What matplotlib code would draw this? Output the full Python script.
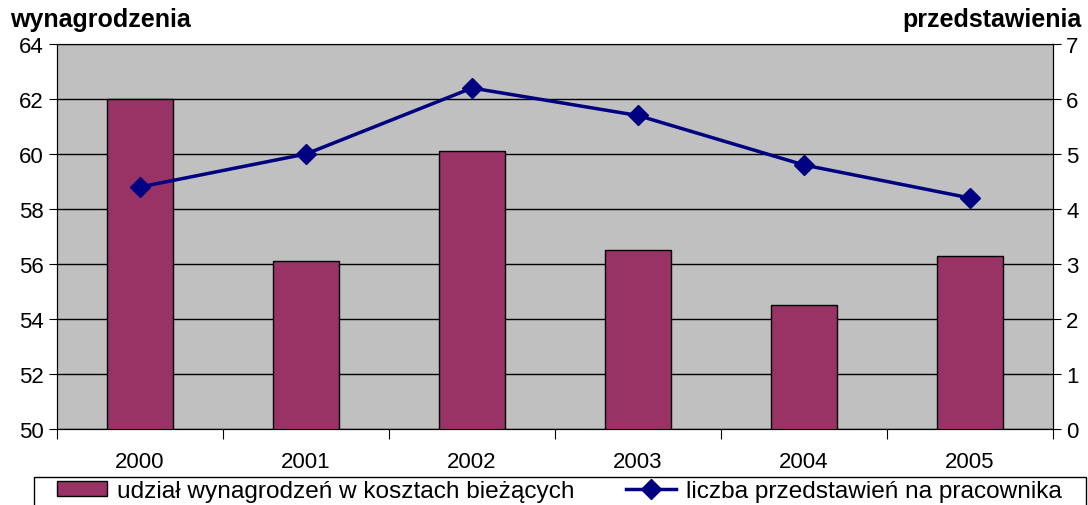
import numpy as np
import matplotlib.pyplot as plt
from matplotlib.patches import Rectangle

plt.rcParams['font.family'] = ['Liberation Sans', 'DejaVu Sans']

# dane
lata = ['2000', '2001', '2002', '2003', '2004', '2005']
udzial = [62.0, 56.1, 60.1, 56.5, 54.5, 56.3]
przedstawienia = [4.4, 5.0, 6.2, 5.7, 4.8, 4.2]

fig = plt.figure(figsize=(10.88, 5.06), dpi=100)
ax = fig.add_axes([57/1088, 1 - 430/506, (1053 - 57)/1088, (430 - 45)/506])
ax.set_facecolor('#C0C0C0')

x = np.arange(len(lata))
bars = ax.bar(x, udzial, width=0.4, bottom=0, color='#993366', edgecolor='black',
              linewidth=1, label='udział wynagrodzeń w kosztach bieżących', zorder=3)
ax.set_ylim(50, 64)
ax.set_xlim(-0.5, len(lata) - 0.5)
ax.set_yticks(range(50, 65, 2))
ax.yaxis.grid(True, color='black', linewidth=1, zorder=1)
ax.set_axisbelow(True)

ax.set_xticks(np.arange(-0.5, len(lata), 1))
ax.set_xticklabels([])
ax.set_xticks(x, minor=True)
ax.set_xticklabels(lata, minor=True)
ax.tick_params(axis='x', which='minor', length=0, pad=16, labelsize=16)
ax.tick_params(axis='x', which='major', length=7, direction='out')
ax.tick_params(axis='y', labelsize=16, length=6, direction='out')
ax.spines['top'].set_color('#808080')

ax2 = ax.twinx()
ln, = ax2.plot(x, przedstawienia, color='#000080', marker='D', markersize=10,
               linewidth=2.5, label='liczba przedstawień na pracownika', zorder=5)
ax2.set_ylim(0, 7)
ax2.set_yticks(range(0, 8))
ax2.tick_params(axis='y', labelsize=16, length=6, direction='out')

fig.text(10/1088, 1 - 20/506, 'wynagrodzenia', fontsize=18, fontweight='bold', va='center', ha='left')
fig.text(1082/1088, 1 - 20/506, 'przedstawienia', fontsize=18, fontweight='bold', va='center', ha='right')

# ramka legendy (ucięta na dole jak w oryginale)
fig.patches.append(Rectangle((34/1088, -0.05), (1086 - 34)/1088, 1 - 478/506 + 0.05,
                             transform=fig.transFigure, fill=False, edgecolor='black', linewidth=1))
fig.legend([bars, ln], [bars.get_label(), ln.get_label()], ncol=2,
           loc='center left', bbox_to_anchor=(57/1088, 1 - 492/506),
           fontsize=17.6, frameon=False, handlelength=2.05, handleheight=0.55,
           handletextpad=0.4, columnspacing=2.1, borderaxespad=0, borderpad=0)

fig.savefig('out.png', dpi=100)
